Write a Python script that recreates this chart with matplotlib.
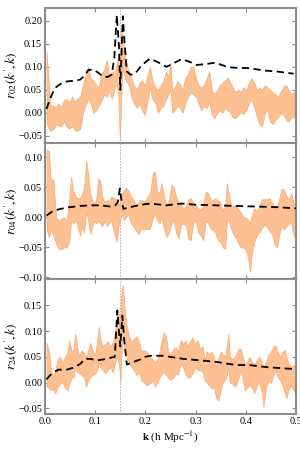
import numpy as np
import matplotlib
matplotlib.use("Agg")
import matplotlib.pyplot as plt

plt.rcParams['font.family'] = ['Liberation Serif', 'DejaVu Serif']
plt.rcParams['mathtext.fontset'] = 'stix'

# ---- panel 1: r02 ----
k02_band = [0.003, 0.008, 0.011, 0.017, 0.022, 0.027, 0.033, 0.038, 0.043, 0.048, 0.054, 0.059, 0.064, 0.07,
            0.075, 0.08, 0.086, 0.091, 0.096, 0.102, 0.107, 0.112, 0.118, 0.123, 0.128, 0.133, 0.139, 0.143,
            0.146, 0.149, 0.151, 0.154, 0.157, 0.161, 0.167, 0.172, 0.177, 0.183, 0.188, 0.193, 0.199, 0.209,
            0.214, 0.22, 0.225, 0.23, 0.236, 0.241, 0.246, 0.25, 0.253, 0.258, 0.264, 0.269, 0.274, 0.279,
            0.285, 0.29, 0.295, 0.301, 0.306, 0.311, 0.316, 0.322, 0.327, 0.332, 0.337, 0.343, 0.348, 0.353,
            0.358, 0.364, 0.369, 0.374, 0.379, 0.385, 0.39, 0.395, 0.401, 0.406, 0.411, 0.417, 0.422, 0.427,
            0.432, 0.438, 0.443, 0.448, 0.454, 0.459, 0.464, 0.469, 0.475, 0.48, 0.485, 0.49, 0.496]
hi02 = [0.133, 0.06, 0.017, 0.015, 0.012, 0.02, 0.013, 0.028, 0.03, 0.022, 0.035, 0.024, 0.03, 0.035,
        0.06, 0.078, 0.1, 0.075, 0.07, 0.06, 0.055, 0.085, 0.095, 0.115, 0.08, 0.09, 0.085, 0.11,
        0.12, 0.06, 0.18, 0.17, 0.14, 0.11, 0.09, 0.075, 0.06, 0.05, 0.065, 0.07, 0.06, 0.1,
        0.07, 0.055, 0.05, 0.06, 0.07, 0.09, 0.08, 0.11, 0.05, 0.055, 0.068, 0.06, 0.05, 0.075,
        0.085, 0.1, 0.1, 0.075, 0.06, 0.055, 0.06, 0.075, 0.09, 0.05, 0.04, 0.05, 0.06, 0.065,
        0.07, 0.077, 0.065, 0.055, 0.045, 0.05, 0.045, 0.055, 0.05, 0.065, 0.075, 0.065, 0.05, 0.055,
        0.05, 0.06, 0.055, 0.05, 0.045, 0.04, 0.035, 0.045, 0.057, 0.06, 0.05, 0.04, 0.045]
lo02 = [-0.022, -0.035, -0.04, -0.035, -0.025, -0.028, -0.03, -0.018, -0.03, -0.035, -0.03, -0.038, -0.04, -0.035,
        -0.005, 0.015, 0.03, 0.02, 0.0, 0.005, 0.015, 0.025, 0.04, 0.035, 0.048, 0.03, 0.055, 0.06,
        0.04, -0.06, 0.0, 0.1, 0.085, 0.07, 0.06, 0.035, 0.02, 0.01, 0.02, 0.005, -0.005, 0.055,
        0.03, 0.02, 0.0, 0.01, 0.015, 0.03, 0.04, 0.05, 0.0, 0.005, 0.015, 0.01, 0.0, 0.02,
        0.035, 0.045, 0.04, 0.035, 0.02, 0.005, 0.015, 0.01, 0.025, -0.005, -0.012, 0.0, 0.005, 0.0,
        0.01, 0.005, 0.0, -0.01, -0.012, -0.005, 0.0, -0.003, 0.005, 0.02, 0.03, 0.01, -0.01, -0.025,
        -0.03, 0.0, 0.005, -0.02, -0.025, -0.015, -0.01, 0.0, -0.005, -0.015, -0.02, -0.01, -0.01]
k02_model = [0.003, 0.01, 0.02, 0.03, 0.043, 0.06, 0.07, 0.08, 0.086, 0.096, 0.105, 0.116, 0.125, 0.133,
             0.138, 0.143, 0.147, 0.15, 0.153, 0.155, 0.158, 0.163, 0.17, 0.176, 0.183, 0.19, 0.2, 0.209,
             0.225, 0.242, 0.26, 0.272, 0.29, 0.302, 0.32, 0.339, 0.365, 0.38, 0.408, 0.435, 0.46, 0.495]
r02_model = [0.008, 0.03, 0.054, 0.062, 0.068, 0.07, 0.072, 0.082, 0.093, 0.094, 0.088, 0.078, 0.078, 0.083,
             0.12, 0.213, 0.15, 0.05, 0.15, 0.21, 0.16, 0.09, 0.083, 0.083, 0.09, 0.1, 0.11, 0.118,
             0.11, 0.1, 0.11, 0.117, 0.11, 0.104, 0.106, 0.109, 0.099, 0.098, 0.097, 0.092, 0.09, 0.085]

# ---- panel 2: r04 ----
k04_band = [0.003, 0.008, 0.011, 0.017, 0.022, 0.027, 0.033, 0.038, 0.043, 0.048, 0.052, 0.056, 0.061, 0.065,
            0.07, 0.074, 0.078, 0.082, 0.086, 0.09, 0.094, 0.098, 0.102, 0.106, 0.11, 0.114, 0.119, 0.123,
            0.127, 0.132, 0.138, 0.143, 0.147, 0.151, 0.154, 0.157, 0.161, 0.166, 0.171, 0.176, 0.181, 0.186,
            0.191, 0.197, 0.209, 0.215, 0.219, 0.223, 0.228, 0.232, 0.237, 0.242, 0.247, 0.252, 0.256, 0.261,
            0.266, 0.271, 0.276, 0.281, 0.285, 0.29, 0.295, 0.3, 0.305, 0.31, 0.315, 0.32, 0.325, 0.33,
            0.334, 0.339, 0.344, 0.349, 0.354, 0.359, 0.362, 0.366, 0.371, 0.376, 0.381, 0.386, 0.39, 0.395,
            0.4, 0.405, 0.408, 0.412, 0.417, 0.422, 0.427, 0.432, 0.437, 0.442, 0.447, 0.452, 0.457, 0.462,
            0.466, 0.471, 0.476, 0.481, 0.486, 0.49, 0.495, 0.5]
hi04 = [0.113, 0.11, 0.065, 0.062, 0.0, -0.005, -0.002, 0.0, -0.005, 0.026, 0.068, 0.045, 0.035, 0.032,
        0.032, 0.04, 0.05, 0.095, 0.07, 0.04, 0.028, 0.023, 0.03, 0.065, 0.06, 0.035, 0.025, 0.03,
        0.026, 0.035, 0.032, 0.03, 0.02, 0.03, 0.04, 0.046, 0.05, 0.045, 0.035, 0.03, 0.02, 0.025,
        0.03, 0.026, 0.04, 0.074, 0.076, 0.045, 0.04, 0.057, 0.035, 0.02, 0.03, 0.055, 0.05, 0.035,
        0.025, 0.02, 0.015, 0.02, 0.03, 0.032, 0.025, 0.02, 0.015, 0.012, 0.02, 0.043, 0.04, 0.03,
        0.028, 0.032, 0.028, 0.025, 0.012, 0.02, 0.057, 0.04, 0.018, 0.02, 0.018, 0.012, 0.008, 0.0,
        0.0, -0.005, -0.01, 0.005, 0.015, 0.01, 0.02, 0.03, 0.03, 0.03, 0.032, 0.025, 0.018, 0.02,
        0.03, 0.048, 0.045, 0.035, 0.03, 0.04, 0.025, 0.02]
lo04 = [-0.02, -0.033, -0.02, -0.03, -0.044, -0.052, -0.053, -0.05, -0.05, -0.041, -0.005, -0.01, -0.005, -0.016,
        -0.03, -0.015, -0.025, 0.01, -0.005, -0.028, -0.015, -0.005, -0.01, -0.005, -0.01, -0.015, -0.005, -0.015,
        -0.01, -0.005, -0.028, -0.041, -0.01, 0.0, 0.005, -0.005, 0.0, 0.005, -0.01, -0.015, -0.022, -0.028,
        -0.019, -0.02, -0.019, 0.0, 0.005, -0.005, -0.01, 0.0, -0.02, -0.033, -0.025, -0.01, -0.005, -0.025,
        -0.035, -0.012, -0.01, -0.015, -0.035, -0.038, -0.01, -0.005, -0.025, -0.03, -0.038, -0.005, -0.01, -0.02,
        -0.02, -0.025, -0.038, -0.04, -0.05, -0.052, -0.005, -0.005, -0.02, -0.03, -0.035, -0.045, -0.05, -0.05,
        -0.055, -0.07, -0.091, -0.06, -0.04, -0.03, -0.025, -0.018, -0.012, -0.016, -0.022, -0.028, -0.045, -0.05,
        -0.03, -0.015, -0.02, -0.015, -0.01, -0.01, -0.03, -0.035]
k04_model = [0.003, 0.015, 0.03, 0.05, 0.07, 0.09, 0.11, 0.13, 0.14, 0.145, 0.149, 0.152, 0.156, 0.165,
             0.18, 0.2, 0.209, 0.242, 0.272, 0.3, 0.34, 0.38, 0.42, 0.46, 0.5]
r04_model = [0.003, 0.01, 0.014, 0.017, 0.019, 0.02, 0.02, 0.018, 0.02, 0.025, 0.048, 0.03, 0.014, 0.016,
             0.019, 0.022, 0.023, 0.02, 0.023, 0.021, 0.02, 0.019, 0.018, 0.017, 0.015]

# ---- panel 3: r24 ----
k24_band = [0.003, 0.008, 0.011, 0.015, 0.02, 0.025, 0.03, 0.035, 0.04, 0.045, 0.048, 0.053, 0.057, 0.06,
            0.064, 0.068, 0.072, 0.077, 0.082, 0.086, 0.09, 0.095, 0.1, 0.104, 0.107, 0.11, 0.115, 0.12,
            0.125, 0.13, 0.135, 0.14, 0.144, 0.148, 0.15, 0.152, 0.155, 0.158, 0.162, 0.167, 0.172, 0.177,
            0.182, 0.187, 0.192, 0.197, 0.202, 0.209, 0.214, 0.219, 0.224, 0.228, 0.233, 0.237, 0.241, 0.245,
            0.25, 0.256, 0.261, 0.265, 0.27, 0.275, 0.28, 0.284, 0.289, 0.294, 0.299, 0.304, 0.309, 0.314,
            0.318, 0.322, 0.327, 0.332, 0.336, 0.341, 0.345, 0.35, 0.354, 0.359, 0.362, 0.365, 0.368, 0.373,
            0.378, 0.382, 0.386, 0.39, 0.394, 0.398, 0.402, 0.407, 0.412, 0.417, 0.422, 0.427, 0.432, 0.435,
            0.44, 0.445, 0.45, 0.455, 0.459, 0.463, 0.468, 0.473, 0.477, 0.481, 0.486, 0.49, 0.495, 0.5]
hi24 = [0.077, 0.06, 0.03, 0.012, 0.02, 0.045, 0.05, 0.04, 0.05, 0.06, 0.082, 0.06, 0.065, 0.095,
        0.07, 0.05, 0.063, 0.058, 0.05, 0.062, 0.077, 0.06, 0.055, 0.08, 0.108, 0.085, 0.07, 0.075,
        0.08, 0.07, 0.078, 0.1, 0.14, 0.13, 0.12, 0.17, 0.19, 0.15, 0.114, 0.09, 0.08, 0.085,
        0.09, 0.08, 0.06, 0.063, 0.06, 0.05, 0.045, 0.04, 0.045, 0.06, 0.085, 0.098, 0.09, 0.06,
        0.055, 0.066, 0.068, 0.06, 0.082, 0.075, 0.082, 0.07, 0.08, 0.088, 0.075, 0.082, 0.065, 0.07,
        0.045, 0.06, 0.055, 0.06, 0.05, 0.03, 0.045, 0.06, 0.055, 0.05, 0.07, 0.095, 0.05, 0.045,
        0.05, 0.06, 0.066, 0.065, 0.05, 0.035, 0.04, 0.05, 0.04, 0.035, 0.045, 0.05, 0.04, 0.03,
        0.04, 0.055, 0.06, 0.07, 0.072, 0.06, 0.05, 0.06, 0.063, 0.05, 0.035, 0.03, 0.035, 0.015]
lo24 = [-0.008, -0.01, -0.015, -0.012, -0.021, -0.01, -0.002, 0.0, -0.01, -0.015, -0.005, 0.01, 0.01, 0.03,
        0.02, 0.018, 0.015, 0.011, -0.008, 0.005, 0.011, 0.015, 0.018, 0.025, 0.04, 0.03, 0.024, 0.018,
        0.025, 0.03, 0.02, 0.04, 0.05, 0.03, 0.0, 0.05, 0.09, 0.07, 0.05, 0.04, 0.03, 0.024,
        0.015, 0.02, 0.005, 0.0, -0.005, -0.002, 0.005, -0.008, 0.0, 0.01, 0.018, 0.02, 0.015, 0.01,
        0.005, 0.01, 0.018, 0.015, 0.037, 0.03, 0.015, 0.01, 0.011, 0.018, 0.03, 0.024, 0.024, 0.02,
        0.005, 0.0, -0.005, -0.012, -0.008, -0.03, -0.035, -0.015, 0.0, 0.005, 0.015, 0.03, 0.0, -0.002,
        -0.008, 0.0, 0.01, 0.024, 0.005, -0.015, -0.01, -0.005, -0.01, -0.02, -0.005, -0.002, -0.02, -0.047,
        -0.01, 0.005, 0.0, 0.015, 0.024, 0.01, 0.005, -0.005, -0.02, -0.03, -0.01, -0.005, -0.015, -0.02]
k24_model = [0.003, 0.01, 0.017, 0.027, 0.043, 0.057, 0.07, 0.08, 0.09, 0.103, 0.117, 0.13, 0.139, 0.144,
             0.148, 0.15, 0.154, 0.158, 0.163, 0.176, 0.19, 0.2, 0.209, 0.235, 0.275, 0.309, 0.342, 0.38,
             0.407, 0.44, 0.5]
r24_model = [0.006, 0.014, 0.02, 0.025, 0.025, 0.029, 0.036, 0.046, 0.046, 0.043, 0.045, 0.048, 0.05, 0.14,
             0.09, 0.07, 0.13, 0.08, 0.035, 0.04, 0.045, 0.05, 0.052, 0.052, 0.046, 0.043, 0.04, 0.034,
             0.034, 0.03, 0.026]

panels = [
    (k02_band, lo02, hi02, k02_model, r02_model, r"$r_{02}(k', k)$", (-0.067, 0.228),
     [-0.05, 0.0, 0.05, 0.10, 0.15, 0.20]),
    (k04_band, lo04, hi04, k04_model, r04_model, r"$r_{04}(k', k)$", (-0.102, 0.123),
     [-0.10, -0.05, 0.0, 0.05, 0.10]),
    (k24_band, lo24, hi24, k24_model, r24_model, r"$r_{24}(k', k)$", (-0.061, 0.2015),
     [-0.05, 0.0, 0.05, 0.10, 0.15]),
]

fig, axes = plt.subplots(3, 1, figsize=(3, 4.5), dpi=100, sharex=True)
fig.subplots_adjust(left=0.15, right=0.987, top=0.982, bottom=0.08, hspace=0)

spine_col = '#8c8c8c'
for ax, (kb, lo, hi, km, rm, lab, ylim, yt) in zip(axes, panels):
    ax.fill_between(kb, lo, hi, color='#fdc093', edgecolor='#fbaa70', linewidth=0.5, zorder=2)
    ax.plot(km, rm, color='black', linestyle=(0, (4, 2.5)), linewidth=1.3, zorder=3)
    ax.axvline(0.15, color='#aaaaaa', linestyle=(0, (2, 1.5)), linewidth=0.6, zorder=1)
    ax.set_xlim(0, 0.5)
    ax.set_ylim(*ylim)
    ax.set_yticks(yt)
    ax.set_yticklabels([f"{v:.2f}".replace('-', '\u2212') for v in yt])
    ax.set_ylabel(lab, fontsize=9.5)
    ax.yaxis.set_label_coords(-0.105, 0.5)
    for s in ax.spines.values():
        s.set_color(spine_col)
        s.set_linewidth(1.5)
    ax.tick_params(direction='in', top=True, right=True, length=3, width=0.8,
                   color=spine_col, labelsize=7.5, pad=2)

axes[-1].set_xticks([0.0, 0.1, 0.2, 0.3, 0.4, 0.5])
axes[-1].set_xticklabels(["0.0", "0.1", "0.2", "0.3", "0.4", "0.5"])
axes[-1].set_xlabel(r"$\mathbf{k}$ (h Mpc$^{-1}$)", fontsize=8, labelpad=3)

fig.savefig("out.png", dpi=100)
